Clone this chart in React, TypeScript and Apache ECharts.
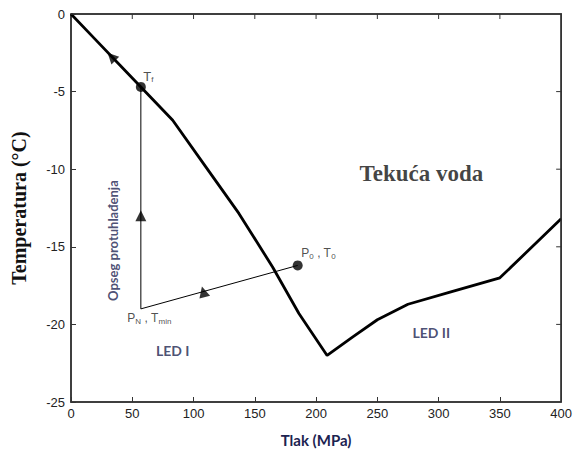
import React, { useEffect, useRef } from 'react';
import * as echarts from 'echarts';

// Melting curve (ice I -> ice III -> ice V)
const meltingCurve: [number, number][] = [
  [0, 0], [20, -1.65], [40, -3.3], [57, -4.7], [83, -6.85], [110, -9.85], [137, -12.85],
  [164.5, -16.3], [186, -19.3], [209, -22], [230, -20.8], [250, -19.7],
  [275, -18.7], [310, -17.9], [350, -17], [400, -13.2],
];
// Supercooling path: Tf -> PN,Tmin -> P0,T0
const supercoolPath: [number, number][] = [[57, -4.7], [57, -19], [185, -16.2]];
const dots: [number, number][] = [[57, -4.7], [185, -16.2]];
// arrows: [x, y, rotation]
const arrows: [number, number, number][] = [[33, -2.75, 45], [57, -13, 0], [108, -17.9, 15]];

const xMin = 0, xMax = 400, xStep = 50;
const yMin = -25, yMax = 0, yStep = 5;
const xTickValues = [50, 100, 150, 200, 250, 300, 350];
const yTickValues = [-5, -10, -15, -20];

const App: React.FC = () => {
  const ref = useRef<HTMLDivElement>(null);
  useEffect(() => {
    if (!ref.current) return;
    const chart = echarts.init(ref.current, undefined, { renderer: 'svg' });
    const navy = '#1c2350';
    const textPt = (x: number, y: number, label: any) => ({ value: [x, y], label });
    chart.setOption({
      animation: false,
      grid: { left: 71, right: 12, top: 14, bottom: 52, show: true, borderColor: '#333', borderWidth: 1.5 },
      xAxis: {
        type: 'value', min: xMin, max: xMax, interval: xStep, position: 'bottom',
        axisLine: { show: true, onZero: false, lineStyle: { color: '#333', width: 1.5 } },
        axisTick: { show: true, inside: true, length: 5 },
        splitLine: { show: false },
        axisLabel: { color: '#222', fontSize: 13, fontFamily: 'Liberation Sans, Arial, sans-serif', margin: 5 },
        name: 'Tlak (MPa)', nameLocation: 'middle', nameGap: 30,
        nameTextStyle: { fontFamily: 'Lato, Open Sans, sans-serif', fontWeight: 'bold', fontSize: 15, color: navy },
      },
      yAxis: {
        type: 'value', min: yMin, max: yMax, interval: yStep, position: 'left',
        axisLine: { show: true, onZero: false, lineStyle: { color: '#333', width: 1.5 } },
        axisTick: { show: true, inside: true, length: 5 },
        splitLine: { show: false },
        axisLabel: { color: '#222', fontSize: 13, fontFamily: 'Liberation Sans, Arial, sans-serif', margin: 6 },
        name: 'Temperatura (°C)', nameLocation: 'middle', nameGap: 42,
        nameTextStyle: { fontFamily: 'Liberation Serif, Times New Roman, serif', fontWeight: 'bold', fontSize: 20, color: '#111' },
      },
      series: [
        {
          type: 'line', data: meltingCurve, symbol: 'none', clip: false,
          lineStyle: { color: '#000', width: 2.8 }, z: 3,
        },
        {
          type: 'line', data: supercoolPath, symbol: 'none', clip: false,
          lineStyle: { color: '#000', width: 1 }, z: 2,
        },
        {
          type: 'scatter', data: dots, symbol: 'circle', symbolSize: 10, clip: false,
          itemStyle: { color: '#000' }, z: 4,
        },
        {
          type: 'scatter', clip: false,
          data: arrows.map(a => ({ value: [a[0], a[1]], symbolRotate: a[2] })),
          symbol: 'triangle', symbolSize: 11, itemStyle: { color: '#000' }, z: 4,
        },
        {
          type: 'scatter', symbolSize: 1, silent: true, z: 5, clip: false,
          itemStyle: { color: 'rgba(255,255,255,0)' },
          label: { show: true, color: '#222', fontFamily: 'Liberation Sans, Arial, sans-serif' },
          data: [
            textPt(59, -4.0, {
              formatter: '{a|T}{s|f}', position: 'inside', align: 'left',
              rich: { a: { fontSize: 13, color: '#222' }, s: { fontSize: 8, color: '#222', padding: [6, 0, 0, 0] } },
            }),
            textPt(188, -15.4, {
              formatter: '{a|P}{s|0}{a| , T}{s|0}', position: 'inside', align: 'left',
              rich: { a: { fontSize: 12, color: '#222' }, s: { fontSize: 8, color: '#222', padding: [6, 0, 0, 0] } },
            }),
            textPt(46, -19.6, {
              formatter: '{a|P}{s|N}{a| , T}{s|min}', position: 'inside', align: 'left',
              rich: { a: { fontSize: 12, color: '#222' }, s: { fontSize: 8, color: '#222', padding: [6, 0, 0, 0] } },
            }),
            textPt(83, -21.7, {
              formatter: 'LED I', position: 'inside', align: 'center',
              fontSize: 14, fontWeight: 'bold', color: navy, fontFamily: 'Lato, Open Sans, sans-serif',
            }),
            textPt(294, -20.5, {
              formatter: 'LED II', position: 'inside', align: 'center',
              fontSize: 14, fontWeight: 'bold', color: navy, fontFamily: 'Lato, Open Sans, sans-serif',
            }),
            textPt(286, -10.3, {
              formatter: 'Tekuća voda', position: 'inside', align: 'center',
              fontSize: 23, fontWeight: 'bold', color: '#111', fontFamily: 'Liberation Serif, Times New Roman, serif',
            }),
            textPt(34, -14.6, {
              formatter: 'Opseg protuhlađenja', position: 'inside', align: 'center', rotate: 90,
              fontSize: 13, fontWeight: 'bold', color: navy, fontFamily: 'Lato, Open Sans, sans-serif',
            }),
          ],
        },
      ],
    });

    // Top and right frame with inward ticks, placed through the axes' own scales
    const px = (x: number, y: number) => chart.convertToPixel({ gridIndex: 0 }, [x, y]) as number[];
    const tl = px(xMin, yMax), tr = px(xMax, yMax), br = px(xMax, yMin);
    const frame: any[] = [
      { type: 'polyline', z: 100, silent: true, shape: { points: [tl, tr, br] }, style: { stroke: '#333', lineWidth: 1.5, fill: null } },
    ];
    xTickValues.forEach(v => {
      const p = px(v, yMax);
      frame.push({ type: 'line', z: 100, silent: true, shape: { x1: p[0], y1: p[1], x2: p[0], y2: p[1] + 5 }, style: { stroke: '#333', lineWidth: 1 } });
    });
    yTickValues.forEach(v => {
      const p = px(xMax, v);
      frame.push({ type: 'line', z: 100, silent: true, shape: { x1: p[0], y1: p[1], x2: p[0] - 5, y2: p[1] }, style: { stroke: '#333', lineWidth: 1 } });
    });
    chart.setOption({ graphic: frame });

    return () => chart.dispose();
  }, []);
  return <div ref={ref} style={{ position: 'fixed', left: 0, top: 0, width: 575, height: 454, background: '#fff' }} />;
};

export default App;
